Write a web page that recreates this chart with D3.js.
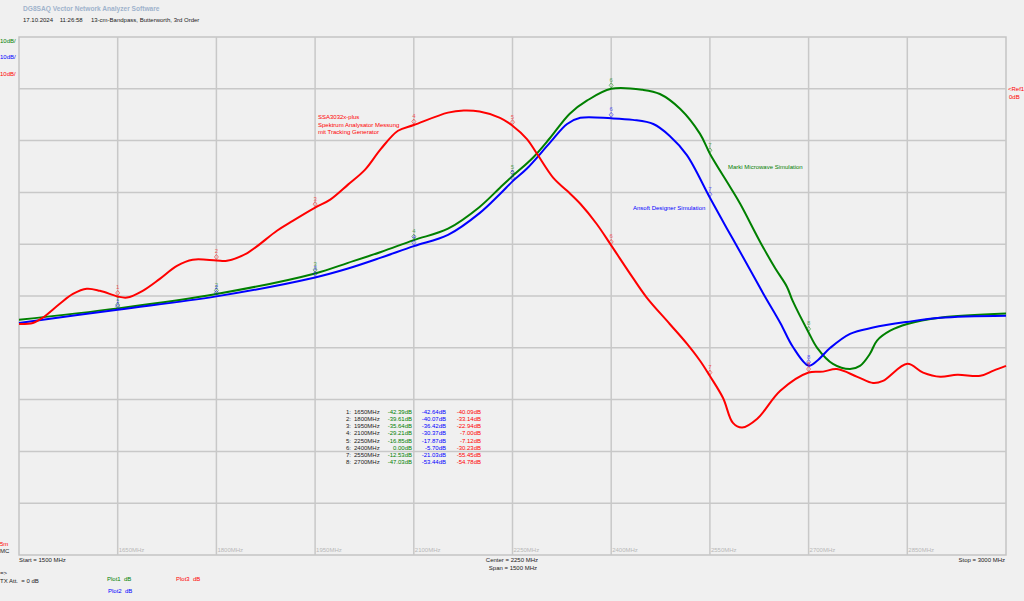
<!doctype html>
<html>

<head>
    <title> VNA Plot </title>
    <script src="https://d3js.org/d3.v7.min.js"> </script>
    <style>
        body { margin: 0; background: #f0f0f0; }
        text { font-family: "Liberation Sans", Arial, sans-serif; font-size: 6px; }
    </style>
</head>

<body>

    <div id = "chart"> </div>

    <script>

        // Data (MHz / dB)

        var greenFreq = [1500, 1650, 1800, 1950, 2000, 2050, 2100, 2152, 2200, 2231, 2250, 2281, 2307, 2337, 2363, 2400, 2448, 2474, 2505, 2535, 2550, 2581, 2596, 2627, 2649, 2667, 2676, 2700, 2713, 2737, 2763, 2778, 2793, 2804, 2824, 2850, 2900, 3000];
        var greenDb   = [-44.6, -42.39, -39.61, -35.64, -33.6, -31.5, -29.21, -27.0, -22.8, -19.1, -16.85, -13.3, -9.5, -4.8, -2.3, 0.0, -0.2, -1.0, -3.9, -8.7, -12.53, -19.0, -22.2, -29.7, -34.6, -38.2, -41.0, -47.03, -50.0, -53.1, -54.1, -53.5, -51.2, -48.6, -46.7, -45.4, -44.2, -43.4];

        var blueFreq = [1500, 1650, 1800, 1950, 2000, 2050, 2100, 2152, 2200, 2231, 2250, 2272, 2307, 2333, 2353, 2400, 2433, 2464, 2489, 2515, 2550, 2576, 2596, 2631, 2657, 2676, 2700, 2713, 2733, 2763, 2798, 2850, 2900, 3000];
        var blueDb   = [-45.2, -42.64, -40.07, -36.42, -34.7, -32.6, -30.37, -28.2, -24.0, -20.3, -17.87, -15.4, -10.4, -6.8, -5.6, -5.70, -6.0, -6.8, -9.1, -12.8, -21.03, -27.0, -31.5, -39.5, -45.2, -49.8, -53.44, -52.5, -50.0, -47.3, -46.1, -45.0, -44.2, -43.8];

        var redFreq = [1500, 1521, 1536, 1562, 1582, 1603, 1623, 1650, 1664, 1688, 1714, 1740, 1764, 1800, 1816, 1847, 1892, 1916, 1950, 1973, 2000, 2026, 2050, 2076, 2100, 2152, 2176, 2200, 2231, 2250, 2272, 2287, 2312, 2333, 2353, 2378, 2400, 2433, 2454, 2489, 2515, 2535, 2550, 2570, 2585, 2599, 2622, 2657, 2700, 2722, 2743, 2774, 2798, 2813, 2850, 2874, 2900, 2926, 2961, 2981, 3000];
        var redDb   = [-45.4, -45.2, -44.2, -41.5, -39.6, -38.6, -39.0, -40.09, -40.3, -39.0, -36.7, -34.2, -33.0, -33.14, -33.2, -31.7, -27.4, -25.5, -22.94, -21.4, -18.5, -15.6, -11.6, -8.1, -7.00, -4.6, -4.2, -4.4, -5.6, -7.12, -9.7, -12.5, -17.2, -19.7, -22.2, -26.1, -30.23, -36.5, -40.3, -45.4, -49.2, -52.5, -55.45, -59.7, -64.5, -65.4, -63.7, -58.3, -54.78, -54.6, -54.1, -55.6, -56.8, -56.4, -53.1, -54.8, -55.6, -55.2, -55.4, -54.4, -53.5];

        // marker table
        var markerFreq  = [1650, 1800, 1950, 2100, 2250, 2400, 2550, 2700];
        var markerGreen = [-42.39, -39.61, -35.64, -29.21, -16.85, 0.00, -12.53, -47.03];
        var markerBlue  = [-42.64, -40.07, -36.42, -30.37, -17.87, -5.70, -21.03, -53.44];
        var markerRed   = [-40.09, -33.14, -22.94, -7.00, -7.12, -30.23, -55.45, -54.78];

        var gridFreq = [1650, 1800, 1950, 2100, 2250, 2400, 2550, 2700, 2850];
        var gridDb = [0, -10, -20, -30, -40, -50, -60, -70, -80];

        const width = 1024;
        const height = 601;
        const green = "#008000", blue = "#0000ff", red = "#ff0000", dark = "#222";

        var svg = d3.select("#chart")
            .append("svg")
            .attr("width", width)
            .attr("height", height)
            .style("display", "block");

        var x = d3.scaleLinear().domain([1500, 3000]).range([19, 1006]);
        var y = d3.scaleLinear().domain([10, -90]).range([37, 555]);

        function label(px, py, color, t, anchor){
            return svg.append("text").attr("x", px).attr("y", py)
                .attr("fill", color).attr("text-anchor", anchor || "start")
                .attr("xml:space", "preserve").text(t);
        }

        // header
        label(23, 11, "#9fb3cc", "DG8SAQ Vector Network Analyzer Software")
            .style("font-size", "6.6px").attr("font-weight", "bold");
        label(23, 22, dark, "17.10.2024    11:26:58     13-cm-Bandpass, Butterworth, 3rd Order");

        // grid
        svg.append("rect").attr("x", x(1500)).attr("y", y(10))
            .attr("width", x(3000) - x(1500)).attr("height", y(-90) - y(10))
            .attr("fill", "none").attr("stroke", "#c4c4c4").attr("stroke-width", 1.5);

        svg.selectAll(".vgrid").data(gridFreq).enter().append("line")
            .attr("x1", d => x(d)).attr("x2", d => x(d))
            .attr("y1", y(10)).attr("y2", y(-90))
            .attr("stroke", "#c8c8c8").attr("stroke-width", 1.5);

        svg.selectAll(".hgrid").data(gridDb).enter().append("line")
            .attr("x1", x(1500)).attr("x2", x(3000))
            .attr("y1", d => y(d)).attr("y2", d => y(d))
            .attr("stroke", "#c8c8c8").attr("stroke-width", 1.5);

        gridFreq.forEach(function(f){
            label(x(f) + 1, 552, "#b8b8b8", f + "MHz");
        });

        // scale labels
        label(0, 43, green, "10dB/");
        label(0, 59, blue, "10dB/");
        label(0, 76, red, "10dB/");
        label(1008, 91, red, "<Ref1");
        label(1009, 99, red, "0dB");
        label(0, 546, red, "5m");
        label(0, 553, dark, "MC");

        // curves
        var line = d3.line()
            .x(d => x(d[0]))
            .y(d => y(d[1]))
            .curve(d3.curveCatmullRom.alpha(0.5));

        var series = [
            [greenFreq, greenDb, green],
            [blueFreq, blueDb, blue],
            [redFreq, redDb, red]
        ];

        series.forEach(function(s){
            svg.append("path")
                .datum(d3.zip(s[0], s[1]))
                .attr("d", line)
                .attr("fill", "none")
                .attr("stroke", s[2])
                .attr("stroke-width", 2);
        });

        // markers on the traces
        [[markerGreen, green], [markerBlue, blue], [markerRed, red]].forEach(function(m){
            var g = svg.append("g").attr("opacity", 0.6);
            markerFreq.forEach(function(f, i){
                var px = x(f), py = y(m[0][i]);
                g.append("path")
                    .attr("d", "M" + px + "," + (py - 6) + "l2,2.5l-2,2.5l-2,-2.5z")
                    .attr("fill", "none").attr("stroke", m[1]).attr("stroke-width", 0.8);
                g.append("text").attr("x", px).attr("y", py - 7)
                    .attr("text-anchor", "middle").attr("fill", m[1])
                    .text(i + 1);
            });
        });

        // marker table
        markerFreq.forEach(function(f, i){
            var ry = 414 + i * 7.15;
            label(351, ry, dark, (i + 1) + ":", "end");
            label(354, ry, dark, f + "MHz");
            label(412, ry, green, markerGreen[i].toFixed(2) + "dB", "end");
            label(446, ry, blue, markerBlue[i].toFixed(2) + "dB", "end");
            label(481, ry, red, markerRed[i].toFixed(2) + "dB", "end");
        });

        // annotations
        var redNote = ["SSA3032x-plus", "Spektrum Analysator Messung", "mit Tracking Generator"];
        redNote.forEach(function(t, i){
            label(318, 119 + i * 7.5, red, t);
        });
        label(728, 169, green, "Marki Microwave Simulation");
        label(633, 210, blue, "Ansoft Designer Simulation");

        // footer
        label(19, 562, dark, "Start = 1500 MHz");
        label(538, 562, dark, "Center = 2250 MHz", "end");
        label(537, 570, dark, "Span = 1500 MHz", "end");
        label(1005, 562, dark, "Stop = 3000 MHz", "end");

        label(0, 575, dark, "=>");
        label(0, 583, dark, "TX Att.  = 0 dB");
        label(107, 581, green, "Plot1  dB");
        label(176, 581, red, "Plot3  dB");
        label(108, 593, blue, "Plot2  dB");

    </script>

</body>

</html>
